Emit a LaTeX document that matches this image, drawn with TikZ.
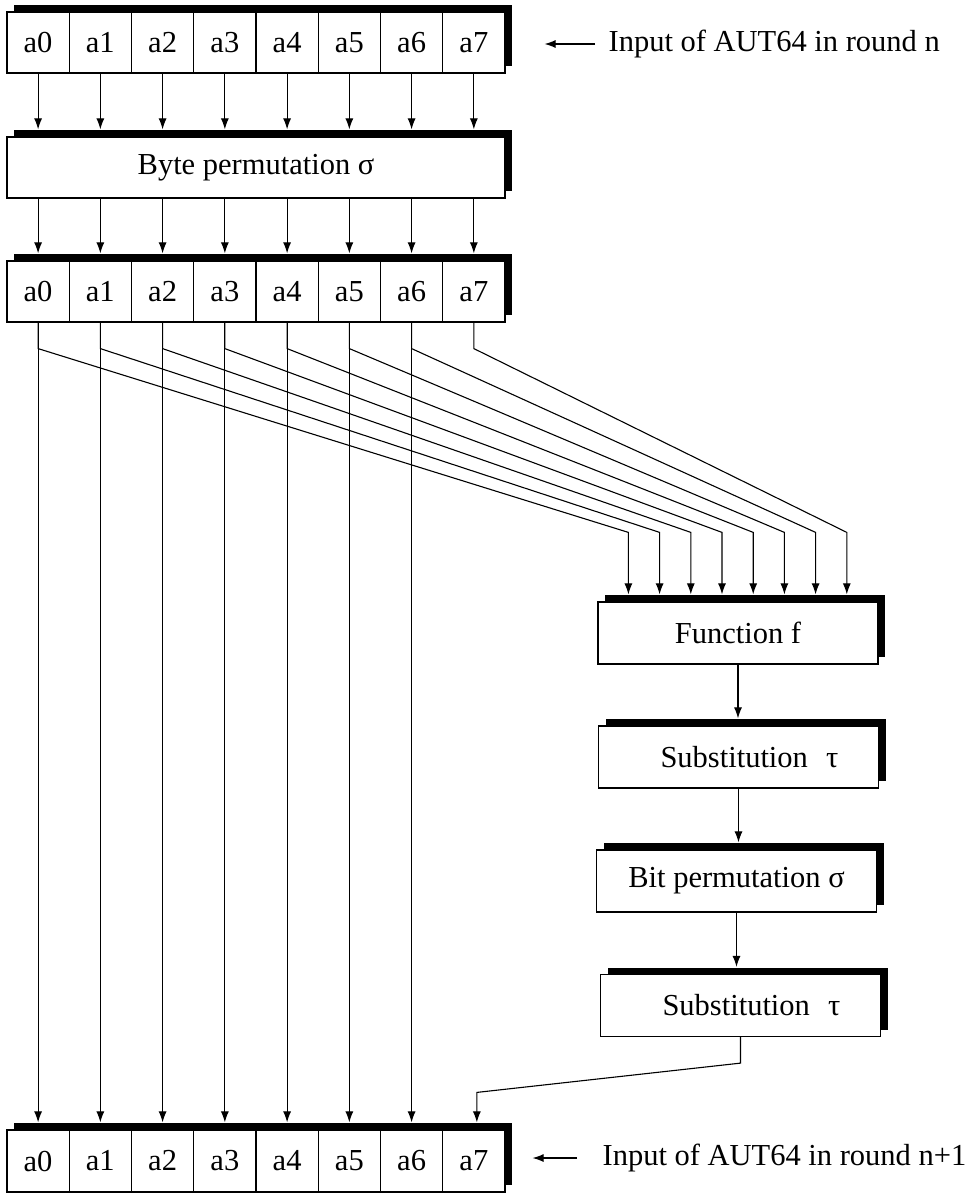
\documentclass[tikz,border=0pt]{standalone}
\usepackage{fontspec}
\setmainfont{Liberation Serif}
\usetikzlibrary{arrows.meta,shadows,calc}

\begin{document}
\begin{tikzpicture}[x=1pt,y=-1pt,
  line width=1.2pt,
  every node/.style={font=\fontsize{30.5}{36}\selectfont, inner sep=0pt},
  blk/.style={draw, fill=white, minimum height=61pt,
    drop shadow={shadow xshift=7pt, shadow yshift=7pt, fill=black, opacity=1}},
  cell/.style={blk, minimum width=62.25pt},
  unit/.style={blk, minimum width=280pt, minimum height=62pt},
  wire/.style={line width=1.1pt, -{Latex[length=11pt,width=8pt]}},
]
\useasboundingbox (0,0) rectangle (974,1193);

% byte rows
\foreach \i in {0,...,7} {
  \node[cell] (t\i) at ({38.1+62.25*\i},42.5) {a\i};
}
\node[blk, minimum width=498pt] (bp) at (256,167.5) {Byte permutation σ};
\foreach \i in {0,...,7} {
  \node[cell] (m\i) at ({38.1+62.25*\i},291.5) {a\i};
}
\foreach \i in {0,...,7} {
  \node[cell, minimum height=62pt] (b\i) at ({38.1+62.25*\i},1161) {a\i};
}

% round function units
\node[unit] (ff)  at (738,633)    {Function f};
\node[unit] (s1)  at (738.5,757)  {\hspace*{22pt}Substitution\hspace{0.6em}τ};
\node[unit] (bit) at (736.5,881)  {Bit permutation σ};
\node[unit] (s2)  at (740.5,1005.5) {\hspace*{22pt}Substitution\hspace{0.6em}τ};

% wiring
\foreach \i in {0,...,7} {
  \draw[wire] (t\i.south) -- ($(t\i.south |- bp.north)+(0,-7)$);
  \draw[wire] (bp.south -| m\i) -- ($(m\i.north)+(0,-7)$);
  \draw[wire] (m\i.south) -- ++(0,26) -- ($(ff.north west)+({31+31.2*\i},-69)$) -- ++(0,62);
}
\foreach \i in {0,...,6} {
  \draw[wire] (m\i.south) -- ($(b\i.north)+(0,-7)$);
}
\draw[wire] (ff.south) -- ($(ff.south |- s1.north)+(0,-7)$);
\draw[wire] (s1.south) -- ($(s1.south |- bit.north)+(0,-7)$);
\draw[wire] (bit.south) -- ($(bit.south |- s2.north)+(0,-7)$);
\draw[wire] (s2.south) -- ++(0,26) -- ($(b7.north)+(3,-37)$) -- ($(b7.north)+(3,-7)$);

% round labels
\node[anchor=west] (lin) at (608,44) {Input of AUT64 in round n};
\draw[wire] ($(lin.west)+(-13,0)$) -- ($(t7.east |- lin.west)+(39,0)$);
\node[anchor=west] (lout) at (602,1158) {Input of AUT64 in round n+1};
\draw[wire] ($(lout.west)+(-25,0)$) -- ($(b7.east |- lout.west)+(27,0)$);
\end{tikzpicture}
\end{document}
